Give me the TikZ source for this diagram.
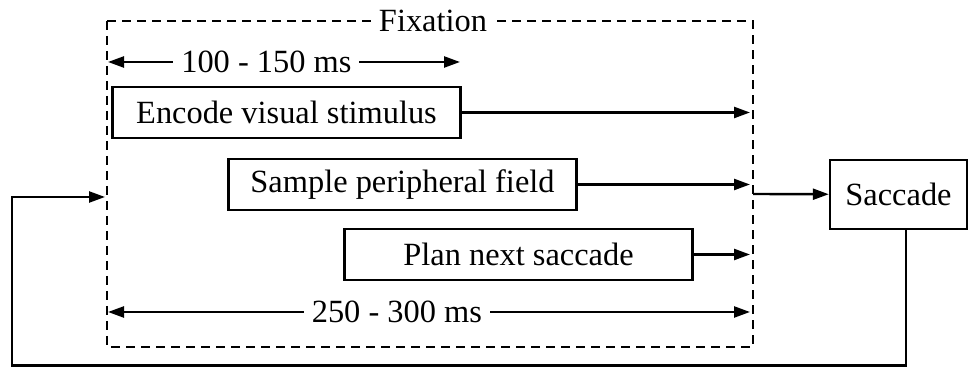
\documentclass[tikz,border=0pt]{standalone}
\usepackage{fontspec}
\setmainfont{Liberation Serif}
\usetikzlibrary{arrows.meta}

\tikzset{
  task/.style={draw, line width=1.2pt, minimum width=174pt, minimum height=25.5pt, inner sep=0pt},
  flow/.style={line width=1.2pt, -{Triangle[length=8pt,width=5.5pt]}},
  span/.style={line width=1.2pt, {Triangle[length=8pt,width=5.5pt]}-{Triangle[length=8pt,width=5.5pt]}},
}

\begin{document}
\begin{tikzpicture}[x=0.5pt, y=-0.5pt, font=\fontsize{16.2}{19}\selectfont]
  \useasboundingbox (0,0) rectangle (971,367);

  % the fixation window
  \draw[line width=1.2pt, dash pattern=on 4.5pt off 3pt] (107,21) rectangle (753,347);
  \node[fill=white, inner xsep=4pt, inner ysep=1pt] (fix) at (433,21) {Fixation};

  % timing spans
  \coordinate (t1a) at (108,62);
  \coordinate (t1b) at (460,62);
  \coordinate (t2a) at (108,312);
  \coordinate (t2b) at (750,312);
  \draw[span] (t1a) -- node[pos=.45, fill=white, inner xsep=4pt] (short) {100 - 150 ms} (t1b);
  \draw[span] (t2a) -- node[pos=.45, fill=white, inner xsep=4pt] (long) {250 - 300 ms} (t2b);

  % processes running during the fixation
  \node[task] (encode) at (286.5,112.5) {Encode visual stimulus};
  \node[task] (sample) at (402.5,184.5) {Sample peripheral field};
  \node[task] (plan)   at (518.5,254.5) {Plan next saccade};

  \node[draw, line width=1.2pt, minimum width=68.5pt, minimum height=34.5pt] (saccade) at (898.5,194.5) {Saccade};

  \coordinate (win)  at (753,194);
  \coordinate (back) at (105,197);
  \coordinate (ret)  at (906,365.5);
  \coordinate (corner) at (12,365.5);

  \draw[flow, shorten >=1.5pt] (encode) -- (encode -| win);
  \draw[flow, shorten >=1.5pt] (sample) -- (sample -| win);
  \draw[flow, shorten >=1.5pt] (plan) -- (plan -| win);
  \draw[flow] (win) -- (saccade);

  % back to the next fixation
  \draw[flow] (ret |- saccade.south) -- (ret) -- (corner) |- (back);
\end{tikzpicture}
\end{document}
